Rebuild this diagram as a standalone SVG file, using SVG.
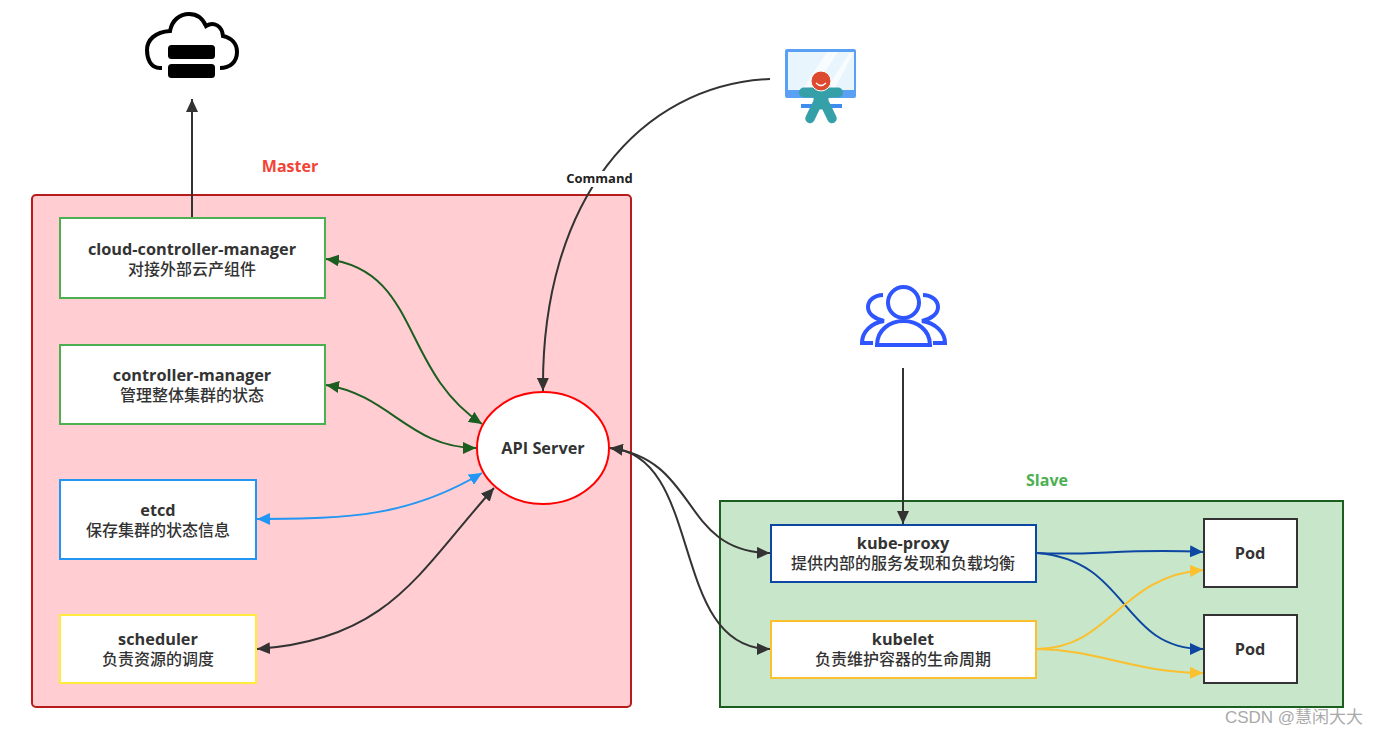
<svg xmlns="http://www.w3.org/2000/svg" width="1378" height="735" viewBox="0 0 1378 735">
<style>
text{font-family:"Open Sans","Noto Sans CJK SC",sans-serif;font-weight:700;font-size:16.300px;fill:#333;text-anchor:middle}
.cjk{font-family:"Noto Sans CJK SC",sans-serif;font-weight:500;font-size:16px}
.box{fill:#fff;stroke-width:2}
.c{fill:none;stroke-width:2}
.k{stroke:#333}.g{stroke:#1b5e20}.b{stroke:#2196f3}.n{stroke:#0d47a1}.y{stroke:#fbc02d}
</style>
<defs>
<marker id="mk" markerUnits="userSpaceOnUse" markerWidth="14" markerHeight="12" refX="13" refY="6" orient="auto-start-reverse" viewBox="0 0 14 12"><path d="M0 0L13 6L0 12Z" fill="#333"/></marker>
<marker id="mg" markerUnits="userSpaceOnUse" markerWidth="14" markerHeight="12" refX="13" refY="6" orient="auto-start-reverse" viewBox="0 0 14 12"><path d="M0 0L13 6L0 12Z" fill="#1b5e20"/></marker>
<marker id="mb" markerUnits="userSpaceOnUse" markerWidth="14" markerHeight="12" refX="13" refY="6" orient="auto-start-reverse" viewBox="0 0 14 12"><path d="M0 0L13 6L0 12Z" fill="#2196f3"/></marker>
<marker id="mn" markerUnits="userSpaceOnUse" markerWidth="14" markerHeight="12" refX="13" refY="6" orient="auto-start-reverse" viewBox="0 0 14 12"><path d="M0 0L13 6L0 12Z" fill="#0d47a1"/></marker>
<marker id="my" markerUnits="userSpaceOnUse" markerWidth="14" markerHeight="12" refX="13" refY="6" orient="auto-start-reverse" viewBox="0 0 14 12"><path d="M0 0L13 6L0 12Z" fill="#fbc02d"/></marker>
</defs>
<rect width="1378" height="735" fill="#fff"/>
<g id="master"><rect x="32" y="195" width="599" height="512" rx="4" fill="#ffcdd2" stroke="#b71c1c" stroke-width="2"/><text x="290" y="172" style="fill:#f44336;font-size:16px">Master</text></g>
<g id="slave"><rect x="720" y="501" width="623" height="206" fill="#c8e6c9" stroke="#1b5e20" stroke-width="2"/><text x="1047" y="486" style="fill:#4caf50;font-size:16px">Slave</text></g>
<g id="connectors">
<path class="c k" d="M192 218V99" marker-end="url(#mk)"/>
<path class="c k" d="M770 79C640 85 541 200 543 391" marker-end="url(#mk)"/>
<path class="c k" d="M903 368V524" marker-end="url(#mk)"/>
<path class="c g" d="M326 259C420 270 400 370 482 424" marker-start="url(#mg)" marker-end="url(#mg)"/>
<path class="c g" d="M326 385C390 395 410 448 476 448" marker-start="url(#mg)" marker-end="url(#mg)"/>
<path class="c b" d="M257 519C350 519 410 516 482 473" marker-start="url(#mb)" marker-end="url(#mb)"/>
<path class="c k" d="M257 649C390 640 420 570 494 488" marker-start="url(#mk)" marker-end="url(#mk)"/>
<path class="c k" d="M610 448C700 460 680 552 770 553" marker-start="url(#mk)" marker-end="url(#mk)"/>
<path class="c k" d="M610 448C705 455 668 649 770 649" marker-end="url(#mk)"/>
<path class="c n" d="M1037 553C1090 556 1130 548 1203 552" marker-end="url(#mn)"/>
<path class="c n" d="M1037 553C1130 560 1120 649 1203 649" marker-end="url(#mn)"/>
<path class="c y" d="M1037 649C1110 649 1120 576 1203 570" marker-end="url(#my)"/>
<path class="c y" d="M1037 649C1100 650 1130 672 1203 673" marker-end="url(#my)"/>
<rect x="565" y="171" width="69" height="16" fill="#fff"/>
<text x="599.500" y="183" style="font-size:13px;fill:#222">Command</text>
</g>
<g id="cloud"><path d="M162 68H160C150 68 147 58 147 50C147 40 155 32 170 31C172 20 180 14 189 14C197 14 203 19 206 26C214 21 222 26 223 36C232 38 237 44 237 52C237 62 230 68 220 68" fill="none" stroke="#000" stroke-width="4"/><rect x="168" y="45" width="47" height="14" rx="3.500"/><rect x="168" y="64" width="47" height="14" rx="3.500"/></g>
<g id="user-screen">
<rect x="785" y="49" width="71" height="49" rx="2" fill="#5aa0f5"/><rect x="788" y="52" width="66" height="38" fill="#e8f5fd"/><path d="M802 90L827 52H838L813 90ZM826 90L850 52H854L834 90Z" fill="#fff" fill-opacity=".7"/><rect x="801" y="104" width="41" height="4" fill="#3f8cf0"/>
<g fill="none" stroke="#36a0a8" stroke-linecap="round"><path d="M804 92.500H838" stroke-width="10"/><path d="M821 94V102" stroke-width="15"/><path d="M817 104L810 118.500M825 104L832 118.500" stroke-width="9.500"/></g>
<circle cx="821" cy="81" r="10" fill="#dc4a2f" stroke="#fff" stroke-width="1"/><path d="M816 83Q821 88 826 83" fill="none" stroke="#fff" stroke-width="1.200"/></g>
<g id="users" fill="none" stroke="#2f55ff" stroke-width="4"><circle cx="903.500" cy="302.500" r="15.500"/><path d="M877 345C877 330 890 321 903.500 321C917 321 930 330 930 345Z"/><path d="M883 295C875 295 868 300 868 307C868 314 875 319 884 321C871 323 862 332 862 343H873"/><path d="M923 295C931 295 938 300 938 307C938 314 931 319 922 321C935 323 945 332 945 343H933"/></g>
<g id="ccm"><rect class="box" x="60" y="218" width="265" height="80" stroke="#4caf50"/><text x="192" y="255">cloud-controller-manager</text><text class="cjk" x="192" y="275">对接外部云产组件</text></g>
<g id="cm"><rect class="box" x="60" y="345" width="265" height="79" stroke="#4caf50"/><text x="192" y="381">controller-manager</text><text class="cjk" x="192" y="401">管理整体集群的状态</text></g>
<g id="etcd"><rect class="box" x="60" y="480" width="196" height="79" stroke="#2196f3"/><text x="158" y="516">etcd</text><text class="cjk" x="158" y="536">保存集群的状态信息</text></g>
<g id="scheduler"><rect class="box" x="60" y="615" width="196" height="68" stroke="#ffeb3b"/><text x="158" y="645">scheduler</text><text class="cjk" x="158" y="665">负责资源的调度</text></g>
<g id="api"><ellipse cx="543" cy="448" rx="66" ry="56" fill="#fff" stroke="#f00" stroke-width="2"/><text x="543" y="454">API Server</text></g>
<g id="kube-proxy"><rect class="box" x="771" y="525" width="265" height="57" stroke="#0d47a1"/><text x="903" y="549">kube-proxy</text><text class="cjk" x="903" y="569">提供内部的服务发现和负载均衡</text></g>
<g id="kubelet"><rect class="box" x="771" y="621" width="265" height="57" stroke="#fbc02d"/><text x="903" y="645">kubelet</text><text class="cjk" x="903" y="665">负责维护容器的生命周期</text></g>
<g id="pod1"><rect class="box" x="1204" y="519" width="93" height="68" stroke="#333"/><text x="1250" y="559">Pod</text></g>
<g id="pod2"><rect class="box" x="1204" y="615" width="93" height="68" stroke="#333"/><text x="1250" y="655">Pod</text></g>
<text x="1294" y="723" style="font-weight:400;font-size:17px;fill:#a9a9a9;font-family:'Liberation Sans','Noto Sans CJK SC',sans-serif">CSDN @慧闲大大</text>
</svg>
